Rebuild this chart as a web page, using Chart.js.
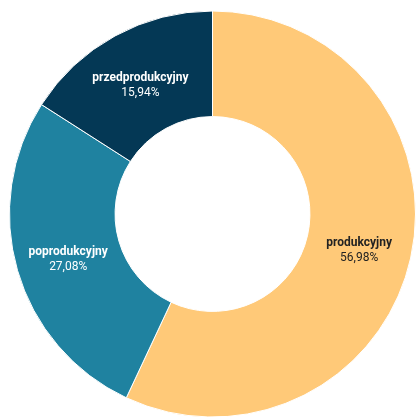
<!DOCTYPE html>
<html>
<head>
    <title>Etapy</title>
    <script src="https://cdn.jsdelivr.net/npm/chart.js"></script>
    <style>
        html, body { margin: 0; padding: 0; background: #fff; overflow: hidden; }
        #wrap { width: 417px; height: 430px; position: relative; }
    </style>
</head>
<body>
    <div id="wrap">
        <canvas id="myChart"></canvas>
    </div>
    <script>
    const labels = ['produkcyjny', 'poprodukcyjny', 'przedprodukcyjny'];
    const values = [56.98, 27.08, 15.94];
    const colors = ['#FFC978', '#1F82A0', '#043855'];
    const labelColors = ['#222222', '#ffffff', '#ffffff'];

    // draw name + percent in the middle of each slice
    const sliceLabels = {
        id: 'sliceLabels',
        afterDatasetsDraw(chart) {
            const ctx = chart.ctx;
            const meta = chart.getDatasetMeta(0);
            ctx.save();
            ctx.textAlign = 'center';
            ctx.textBaseline = 'middle';
            meta.data.forEach((arc, i) => {
                const p = arc.tooltipPosition();
                ctx.fillStyle = labelColors[i];
                ctx.font = 'bold 12px Roboto';
                ctx.fillText(labels[i], p.x, p.y - 4);
                ctx.font = '12px Roboto';
                ctx.fillText(values[i].toFixed(2).replace('.', ',') + '%', p.x, p.y + 11);
            });
            ctx.restore();
        }
    };

    const ctx = document.getElementById('myChart').getContext('2d');
    const myChart = new Chart(ctx, {
        type: 'doughnut',
        data: {
            labels: labels,
            datasets: [{
                data: values,
                backgroundColor: colors,
                borderColor: '#ffffff',
                borderWidth: 1
            }]
        },
        options: {
            responsive: true,
            maintainAspectRatio: false,
            animation: false,
            cutout: '48%',
            layout: { padding: { left: 9, right: 1, top: 10, bottom: 12 } },
            plugins: {
                legend: { display: false },
                tooltip: { enabled: false }
            }
        },
        plugins: [sliceLabels]
    });
    </script>
</body>
</html>
